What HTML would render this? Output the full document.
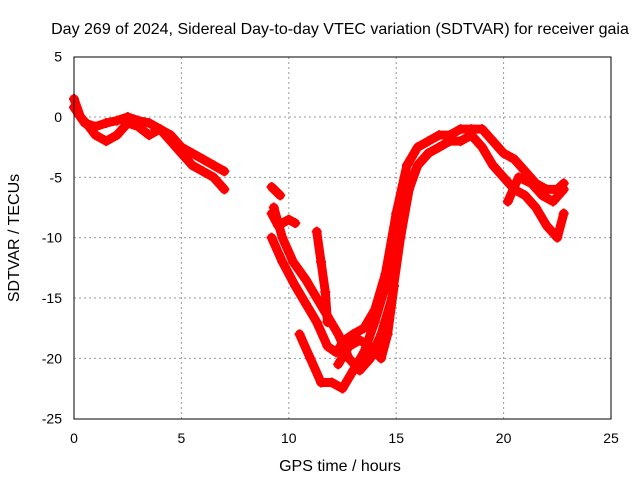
<!DOCTYPE html>
<html><head><meta charset="utf-8"><style>
body{margin:0;background:#fff}
svg{display:block;font-family:"Liberation Sans",sans-serif}
</style></head><body>
<svg id="chart" width="640" height="480">
<rect width="640" height="480" fill="#fff"/>
<text x="340" y="34" font-size="16" text-anchor="middle">Day 269 of 2024, Sidereal Day-to-day VTEC variation (SDTVAR) for receiver gaia</text>
<text x="340" y="471" font-size="16" text-anchor="middle">GPS time / hours</text>
<text transform="translate(19,238) rotate(-90)" font-size="16" text-anchor="middle">SDTVAR / TECUs</text>
<g id="grid"></g><g id="series"></g>
<rect x="74" y="57" width="537" height="362" fill="none" stroke="#000"/>
</svg>
<script>
const xTicks=[0,5,10,15,20,25];
const yTicks=[5,0,-5,-10,-15,-20,-25];
const trackA=[[0,1.5],[0.3,0],[0.7,-0.8],[1,-1.5],[1.5,-2],[2,-1.5],[2.5,-0.5],[3,-0.8],[3.5,-1.5],[4,-1],[4.5,-2],[5,-3],[5.5,-4],[6,-4.5],[6.5,-5],[7,-6]];
const trackB=[[0,0.8],[0.5,-0.5],[1,-0.8],[1.5,-0.5],[2,-0.3],[2.5,0],[3,-0.3],[3.5,-0.5],[4,-1],[4.5,-1.5],[5,-2.5],[5.5,-3],[6,-3.5],[6.5,-4],[7,-4.5]];
const trackC=[[9.2,-8],[9.5,-9],[10,-8.5],[10.3,-8.8]];
const trackC2=[[9.2,-5.8],[9.6,-6.5]];
const trackD=[[9.2,-10],[9.7,-12],[10.3,-14],[10.8,-15.5],[11.3,-17],[11.8,-19],[12.2,-19.5],[12.6,-18.5],[13,-18],[13.5,-17.5],[14,-16],[14.5,-13],[15,-8],[15.5,-4],[16,-2.5],[16.5,-2],[17,-1.5],[17.5,-1.5],[18,-1],[18.5,-1],[19,-1],[19.5,-2],[20,-3],[20.5,-3.5],[21,-4.5],[21.5,-5.5],[22,-6],[22.5,-6],[22.8,-5.5]];
const trackE=[[9.3,-7.5],[9.7,-10],[10.2,-12],[10.8,-13.5],[11.3,-15],[11.8,-16.5],[12.3,-18],[12.8,-20],[13.3,-21],[13.8,-20],[14.3,-18],[14.8,-15],[15.2,-10],[15.6,-6],[16,-4],[16.5,-3],[17,-2.5],[17.5,-2],[18,-2],[18.5,-1.5],[19,-2.5],[19.5,-4],[20,-5],[20.5,-6],[21,-6.5],[21.5,-7.5],[22,-9],[22.5,-10],[22.8,-8]];
const trackF=[[11.3,-9.5],[11.5,-12],[11.7,-14.5],[11.8,-17]];
const trackG=[[10.5,-18],[11,-20],[11.5,-22],[12,-22],[12.5,-22.5],[13,-21],[13.5,-19.5],[14,-17],[14.5,-14],[15,-10],[15.5,-6],[16,-4],[16.5,-3]];
const trackH=[[12.3,-20.5],[12.8,-19],[13.3,-18.5],[13.8,-19],[14.3,-20],[14.6,-18],[14.9,-14]];
const trackI=[[20.2,-7],[20.7,-5],[21.3,-5.5],[21.8,-6.5],[22.3,-7],[22.8,-6]];
const tracks=[trackA,trackB,trackC,trackC2,trackD,trackE,trackF,trackG,trackH,trackI];
const sx=v=>74+v*537/25, sy=v=>117-v*362/30;
const NS="http://www.w3.org/2000/svg";
const grid=document.getElementById('grid'), ser=document.getElementById('series');
xTicks.forEach(t=>{
 if(t>0&&t<25){const l=document.createElementNS(NS,'line');l.setAttribute('x1',sx(t));l.setAttribute('x2',sx(t));l.setAttribute('y1',57);l.setAttribute('y2',419);l.setAttribute('stroke','#999');l.setAttribute('stroke-dasharray','2,3');
 
 grid.appendChild(l);}
 const tx=document.createElementNS(NS,'text');tx.setAttribute('x',sx(t));tx.setAttribute('y',443);tx.setAttribute('font-size','14');tx.setAttribute('text-anchor','middle');tx.textContent=t;
 
 grid.appendChild(tx);
});
yTicks.forEach(t=>{
 if(t<5&&t>-25){const l=document.createElementNS(NS,'line');l.setAttribute('x1',74);l.setAttribute('x2',611);l.setAttribute('y1',sy(t));l.setAttribute('y2',sy(t));l.setAttribute('stroke','#999');l.setAttribute('stroke-dasharray','2,3');
 
 grid.appendChild(l);}
 const tx=document.createElementNS(NS,'text');tx.setAttribute('x',62);tx.setAttribute('y',sy(t)+5);tx.setAttribute('font-size','14');tx.setAttribute('text-anchor','end');tx.textContent=t;
 
 grid.appendChild(tx);
});
tracks.forEach(tr=>{
 const p=document.createElementNS(NS,'polyline');
 p.setAttribute('points',tr.map(d=>sx(d[0])+','+sy(d[1])).join(' '));
 p.setAttribute('fill','none');p.setAttribute('stroke','#f00');p.setAttribute('stroke-width','9');p.setAttribute('stroke-linejoin','round');p.setAttribute('stroke-linecap','round');
 
 
 ser.appendChild(p);
 tr.forEach(d=>{
  const m=document.createElementNS(NS,'path');const x=sx(d[0]),y=sy(d[1]);
  m.setAttribute('d',`M${x-5},${y}H${x+5}M${x},${y-5}V${y+5}`);m.setAttribute('stroke','#f00');m.setAttribute('stroke-width','2');
  
  
  ser.appendChild(m);
 });
});
</script>
</body></html>
